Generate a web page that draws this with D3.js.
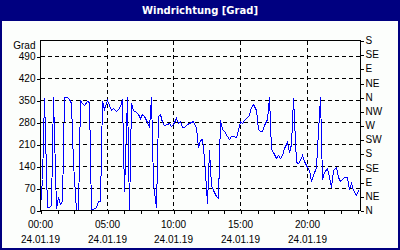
<!DOCTYPE html>
<html>
<head>
<meta charset="utf-8">
<script src="https://cdn.jsdelivr.net/npm/d3@7"></script>
<style>
  body { margin: 0; background: #fff; }
  text { font-family: 'Liberation Sans', Arial, sans-serif; font-size: 10px; fill: #000; }
  .title { font-family: 'DejaVu Sans', Verdana, sans-serif; font-weight: bold; fill: #fff; }
</style>
</head>
<body>
<div id="chart"></div>
<script>
// canvas
const width = 400,
  height = 250,
  plotLeft = 40,
  plotRight = 360,
  plotTop = 40,
  plotBottom = 210

// wind direction in degrees, one value every 10 minutes (24.01.19, 00:00 - 23:50)
const directions = [
  10, 100, 355, 8, 10, 15, 360, 5, 40, 20, 30, 360,
  358, 352, 340, 150, 0, 0, 350, 340, 335, 345, 342, 0,
  2, 10, 30, 30, 345, 320, 350, 335, 318, 325, 315, 322,
  330, 352, 60, 360, 0, 339, 318, 312, 305, 291, 305, 300,
  280, 265, 360, 86, 10, 300, 305, 281, 270, 273, 275, 267,
  272, 291, 275, 284, 265, 265, 272, 275, 279, 284, 260, 201,
  222, 225, 165, 21, 190, 80, 64, 45, 37, 285, 258, 250,
  235, 226, 236, 236, 233, 255, 282, 276, 287, 296, 302, 326,
  336, 318, 258, 250, 252, 270, 290, 358, 195, 183, 165, 175,
  166, 174, 196, 217, 185, 210, 355, 153, 150, 159, 175, 156,
  136, 127, 93, 111, 136, 250, 360, 100, 122, 132, 104, 74,
  127, 136, 104, 93, 100, 104, 104, 66, 85, 64, 48, 64
]
const stepHours = 1 / 6

const gradTicks = [0, 70, 140, 210, 280, 350, 420, 490]
const compassTicks = [0, 45, 90, 135, 180, 225, 270, 315, 360, 405, 450, 495, 540]
const compassLabels = ['N', 'NE', 'E', 'SE', 'S', 'SW', 'W', 'NW', 'N', 'NE', 'E', 'SE', 'S']
const hourTicks = [0, 5, 10, 15, 20]
const hourLabels = ['00:00', '05:00', '10:00', '15:00', '20:00']
const minorHours = [0, 1.25, 2.5, 3.75, 5, 6.25, 7.5, 8.75, 10, 11.25, 12.5, 13.75,
  15, 16.25, 17.5, 18.75, 20, 21.25, 22.5, 23.75]
const dateLabel = '24.01.19'
const title = 'Windrichtung [Grad]'

let xScale = d3.scaleLinear().domain([0, 24]).rangeRound([plotLeft, plotRight])
let yScale = d3.scaleLinear().domain([0, 540]).rangeRound([plotBottom, plotTop])

let svg = d3.select('#chart')
  .append('svg')
  .attr('width', width)
  .attr('height', height)

// navy frame + title bar
svg.append('rect')
  .attr('width', width)
  .attr('height', height)
  .attr('fill', '#000080')
svg.append('rect')
  .attr('x', 2)
  .attr('y', 21)
  .attr('width', width - 4)
  .attr('height', height - 23)
  .attr('fill', '#fcfefc')
svg.append('text')
  .attr('class', 'title')
  .attr('x', width / 2)
  .attr('y', 14)
  .attr('text-anchor', 'middle')
  .text(title)

let g = svg.append('g')
  .attr('transform', 'translate(0.5,0.5)')

// grid
g.selectAll('.hgrid')
  .data(gradTicks.slice(1))
  .enter()
  .append('line')
  .attr('x1', plotLeft)
  .attr('x2', plotRight)
  .attr('y1', d => yScale(d))
  .attr('y2', d => yScale(d))
  .attr('stroke', '#000')
  .attr('stroke-dasharray', '4,3')
  .attr('shape-rendering', 'crispEdges')

g.selectAll('.vgrid')
  .data(hourTicks.slice(1))
  .enter()
  .append('line')
  .attr('x1', d => xScale(d))
  .attr('x2', d => xScale(d))
  .attr('y1', plotTop)
  .attr('y2', plotBottom)
  .attr('stroke', '#000')
  .attr('stroke-dasharray', '4,3')
  .attr('shape-rendering', 'crispEdges')

// series
let line = d3.line()
  .x((d, i) => xScale(i * stepHours))
  .y(d => yScale(d))

g.append('path')
  .datum(directions)
  .attr('d', line)
  .attr('fill', 'none')
  .attr('stroke', '#0000ff')
  .attr('stroke-width', 1)
  .attr('shape-rendering', 'crispEdges')

// frame
g.append('rect')
  .attr('x', plotLeft)
  .attr('y', plotTop)
  .attr('width', plotRight - plotLeft)
  .attr('height', plotBottom - plotTop)
  .attr('fill', 'none')
  .attr('stroke', '#000')
  .attr('shape-rendering', 'crispEdges')

// axes
let styleAxis = sel => {
  sel.select('.domain').remove()
  sel.selectAll('line').attr('shape-rendering', 'crispEdges')
  sel.selectAll('text').attr('fill', '#000')
  sel.attr('font-size', null).attr('font-family', null)
}

let yAxis = d3.axisLeft(yScale)
  .tickValues(gradTicks)
  .tickSize(4)
  .tickPadding(1)
g.append('g')
  .attr('transform', `translate(${plotLeft},0)`)
  .call(yAxis)
  .call(styleAxis)

g.append('text')
  .attr('x', plotLeft - 5)
  .attr('y', yScale(540) + 8)
  .attr('text-anchor', 'end')
  .text('Grad')

let compassAxis = d3.axisRight(yScale)
  .tickValues(compassTicks)
  .tickFormat((d, i) => compassLabels[i])
  .tickSize(3)
  .tickPadding(2)
g.append('g')
  .attr('transform', `translate(${plotRight},0)`)
  .call(compassAxis)
  .call(styleAxis)

let xAxis = d3.axisBottom(xScale)
  .tickValues(minorHours)
  .tickFormat('')
  .tickSize(3)
g.append('g')
  .attr('transform', `translate(0,${plotBottom})`)
  .call(xAxis)
  .call(styleAxis)

g.selectAll('.hour')
  .data(hourTicks)
  .enter()
  .append('text')
  .attr('x', d => xScale(d))
  .attr('y', 227)
  .attr('text-anchor', 'middle')
  .text((d, i) => hourLabels[i])

g.selectAll('.date')
  .data(hourTicks)
  .enter()
  .append('text')
  .attr('x', d => xScale(d))
  .attr('y', 242)
  .attr('text-anchor', 'middle')
  .text(dateLabel)
</script>
</body>
</html>
